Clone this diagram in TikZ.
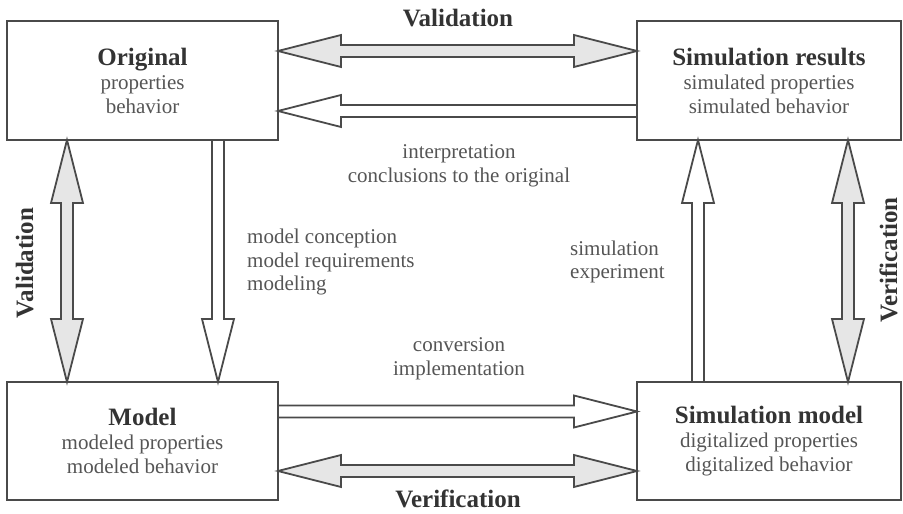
\documentclass[tikz,border=0pt]{standalone}
\usepackage{fontspec}
\setmainfont{Liberation Serif}
\usetikzlibrary{calc}
\definecolor{linec}{HTML}{4A4A4A}
\definecolor{titlec}{HTML}{333333}
\definecolor{bodyc}{HTML}{555555}
\definecolor{arrfill}{HTML}{E6E6E6}
\tikzset{
  box/.style={draw=linec, line width=2pt, rectangle, outer sep=0pt, inner sep=0pt,
    minimum height=119pt, align=center, text=bodyc, font=\fontsize{21}{24}\selectfont},
  fatline/.style={draw=linec, line width=1.8pt, line join=miter},
  lbl/.style={text=bodyc, font=\fontsize{21}{23.5}\selectfont, inner sep=0pt},
  biglbl/.style={text=titlec, font=\fontsize{25}{28}\selectfont\bfseries, inner sep=0pt, anchor=base}
}
\newcommand\ttl[1]{{\color{titlec}\fontsize{25}{26}\selectfont\bfseries #1}}
% single arrow: #1 tail, #2 tip, #3 fill
\newcommand\singlearrow[3]{%
  \coordinate (hb) at ($(#2)!63pt!(#1)$);
  \draw[fatline, fill=#3]
    ($(#1)!6pt!90:(#2)$) -- ($(hb)!6pt!-90:(#1)$) -- ($(hb)!16pt!-90:(#1)$) -- (#2)
    -- ($(hb)!16pt!90:(#1)$) -- ($(hb)!6pt!90:(#1)$) -- ($(#1)!6pt!-90:(#2)$) -- cycle;
}
% double arrow: #1 tip, #2 tip, #3 fill
\newcommand\doublearrow[3]{%
  \coordinate (hbA) at ($(#1)!63pt!(#2)$);
  \coordinate (hbB) at ($(#2)!63pt!(#1)$);
  \draw[fatline, fill=#3]
    (#1) -- ($(hbA)!16pt!90:(#2)$) -- ($(hbA)!6pt!90:(#2)$) -- ($(hbB)!6pt!-90:(#1)$)
    -- ($(hbB)!16pt!-90:(#1)$) -- (#2) -- ($(hbB)!16pt!90:(#1)$) -- ($(hbB)!6pt!90:(#1)$)
    -- ($(hbA)!6pt!-90:(#2)$) -- ($(hbA)!16pt!-90:(#2)$) -- cycle;
}
\begin{document}
\begin{tikzpicture}[x=1pt,y=1pt]
\useasboundingbox (0,0) rectangle (903,514);
% boxes
\node[box, minimum width=271pt] (orig) at (142.5,433.5)
  {\ttl{Original}\\properties\\behavior};
\node[box, minimum width=264pt] (simres) at (769,433.5)
  {\ttl{Simulation results}\\simulated properties\\simulated behavior};
\node[box, minimum width=271pt, minimum height=118pt] (model) at (142.5,73)
  {\ttl{Model}\\modeled properties\\modeled behavior};
\node[box, minimum width=264pt, minimum height=118pt] (simmod) at (769,73)
  {\ttl{Simulation model}\\digitalized properties\\digitalized behavior};
% arrow end points
\coordinate (v1a) at ($(orig.east)+(0,29.5)$);
\coordinate (v1b) at ($(simres.west)+(0,29.5)$);
\coordinate (i1a) at ($(simres.west)+(0,-30.5)$);
\coordinate (i1b) at ($(orig.east)+(0,-30.5)$);
\coordinate (c1a) at ($(model.east)+(0,29.5)$);
\coordinate (c1b) at ($(simmod.west)+(0,29.5)$);
\coordinate (v2a) at ($(model.east)+(0,-30)$);
\coordinate (v2b) at ($(simmod.west)+(0,-30)$);
\coordinate (v3a) at ($(orig.south)+(-75.5,0)$);
\coordinate (v3b) at ($(model.north)+(-75.5,0)$);
\coordinate (m1a) at ($(orig.south)+(75.5,0)$);
\coordinate (m1b) at ($(model.north)+(75.5,0)$);
\coordinate (s1a) at ($(simmod.north)+(-71,0)$);
\coordinate (s1b) at ($(simres.south)+(-71,0)$);
\coordinate (v4a) at ($(simres.south)+(79,0)$);
\coordinate (v4b) at ($(simmod.north)+(79,0)$);
% arrows
\doublearrow{v1a}{v1b}{arrfill}
\singlearrow{i1a}{i1b}{white}
\singlearrow{c1a}{c1b}{white}
\doublearrow{v2a}{v2b}{arrfill}
\doublearrow{v3a}{v3b}{arrfill}
\singlearrow{m1a}{m1b}{white}
\singlearrow{s1a}{s1b}{white}
\doublearrow{v4a}{v4b}{arrfill}
% labels
\node[biglbl] (valtop) at (458,487) {Validation};
\node[biglbl] (verbot) at (458,6) {Verification};
\node[biglbl, rotate=90] (valleft) at (33,251) {Validation};
\node[biglbl, rotate=90] (verright) at (897,254) {Verification};
\node[lbl, align=center] (interp) at (459,348) {interpretation\\conclusions to the original};
\node[lbl, align=left, anchor=west] (mconc) at (247,252) {model conception\\model requirements\\modeling};
\node[lbl, align=left, anchor=west] (simexp) at (570,252) {simulation\\experiment};
\node[lbl, align=center] (conv) at (459,155) {conversion\\implementation};
\end{tikzpicture}
\end{document}
